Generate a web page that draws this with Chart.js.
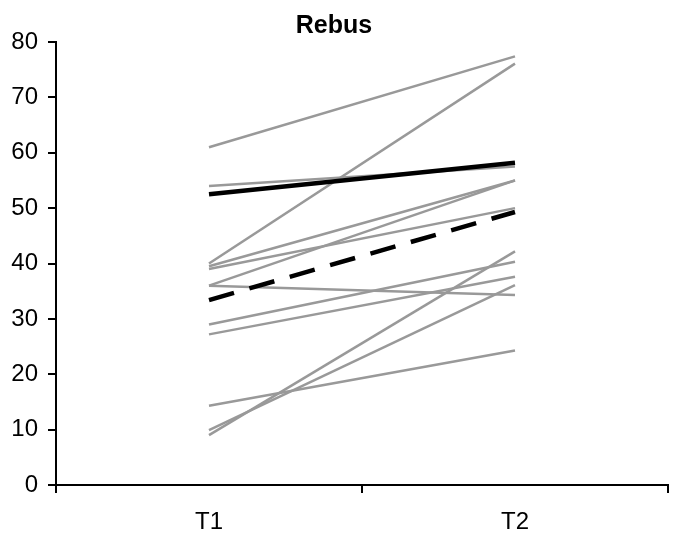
<!DOCTYPE html>
<html>
<head>
<meta charset="utf-8">
<script src="https://cdn.jsdelivr.net/npm/chart.js@4/dist/chart.umd.min.js"></script>
<style>
  html, body { margin: 0; padding: 0; background: #fff; }
  #wrap { width: 678px; height: 537px; position: relative; }
</style>
</head>
<body>
<div id="wrap"><canvas id="c"></canvas></div>
<script>
// Measurement occasions
const timePoints = ['T1', 'T2'];

// Individual scores at each occasion (one entry per child)
const scoresT1 = [61, 54, 40, 39.5, 39, 36, 36, 29, 27.2, 14.3, 9.9, 9.0];
const scoresT2 = [77.4, 57.5, 76.1, 55, 50, 55, 34.3, 40.3, 37.6, 24.3, 36.1, 42.2];

// Group means
const meanSolid = [52.5, 58.2];
const meanDashed = [33.4, 49.3];

// Y axis range
const yTicks = [0, 10, 20, 30, 40, 50, 60, 70, 80];

const FONT = "'Liberation Sans Narrow', 'Arial Narrow', 'Liberation Sans', Arial, sans-serif";

const datasets = [];
datasets.push({
  data: meanSolid,
  borderColor: '#000',
  borderWidth: 4.5,
  pointRadius: 0,
  order: 0
});
datasets.push({
  data: meanDashed,
  borderColor: '#000',
  borderWidth: 4.5,
  borderDash: [26, 16],
  pointRadius: 0,
  order: 1
});
scoresT1.forEach((v, i) => {
  datasets.push({
    data: [v, scoresT2[i]],
    borderColor: '#999999',
    borderWidth: 2.5,
    pointRadius: 0,
    order: 2
  });
});

new Chart(document.getElementById('c'), {
  type: 'line',
  data: { labels: timePoints, datasets },
  options: {
    responsive: true,
    maintainAspectRatio: false,
    animation: false,
    events: [],
    layout: { padding: { left: 0, right: 10, top: 0, bottom: 0 } },
    plugins: {
      legend: { display: false },
      tooltip: { enabled: false },
      title: {
        display: true,
        text: 'Rebus',
        color: '#000',
        font: { family: FONT, size: 25, weight: 'bold', lineHeight: 1.0 },
        padding: { top: 14, bottom: 3 }
      }
    },
    scales: {
      x: {
        offset: true,
        grid: {
          offset: true,
          drawOnChartArea: false,
          drawTicks: true,
          tickLength: 8,
          color: '#000',
          lineWidth: 2
        },
        border: { display: true, color: '#000', width: 2 },
        ticks: {
          color: '#000',
          font: { family: FONT, size: 24 },
          padding: 15,
          maxRotation: 0
        },
        afterFit: (s) => { s.height = 52; }
      },
      y: {
        min: yTicks[0],
        max: yTicks[yTicks.length - 1],
        afterBuildTicks: (s) => { s.ticks = yTicks.map(v => ({ value: v })); },
        grid: {
          drawOnChartArea: false,
          drawTicks: true,
          tickLength: 8,
          color: '#000',
          lineWidth: 2
        },
        border: { display: true, color: '#000', width: 2 },
        ticks: {
          color: '#000',
          font: { family: FONT, size: 24 },
          padding: 10
        },
        afterFit: (s) => { s.width = 56; }
      }
    }
  }
});
</script>
</body>
</html>
